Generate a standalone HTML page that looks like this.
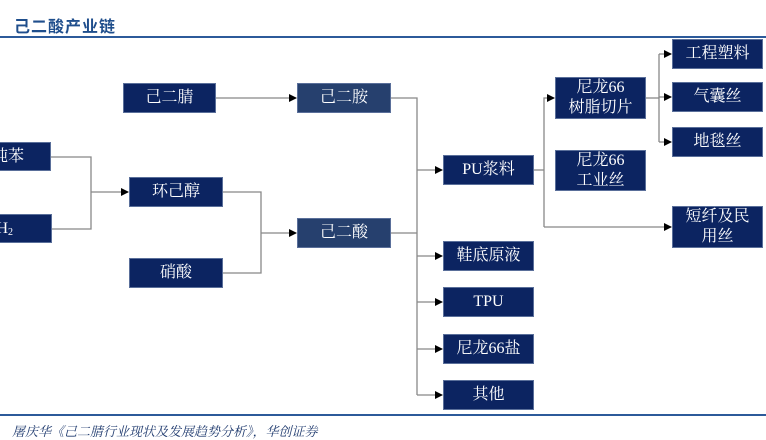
<!DOCTYPE html>
<html><head><meta charset="utf-8"><style>
body{margin:0;width:766px;height:439px;background:#fff;overflow:hidden;position:relative;font-family:"Liberation Serif","Noto Serif CJK SC",serif}
.t{position:absolute;left:14px;top:13px;font:bold 16px "Liberation Sans","Noto Sans CJK SC",sans-serif;color:#1f4e8c;letter-spacing:1px}
.b{position:absolute;background:#0c2461;color:#fff;display:flex;align-items:center;justify-content:center;text-align:center;font-size:16px;line-height:20px;box-sizing:border-box;border:1px solid #5a6f9a}
.l{background:#26406e}
svg{position:absolute;left:0;top:0}
.src{position:absolute;left:12px;top:421px;font:italic 13px "Noto Serif CJK SC",serif;color:#1f3a6e}
</style></head><body>
<div class="t">己二酸产业链</div>
<svg width="766" height="439">
<defs><marker id="a" markerWidth="8" markerHeight="8" refX="7" refY="4" orient="auto" markerUnits="userSpaceOnUse"><path d="M0,0L8,4L0,8z" fill="#000"/></marker></defs>
<line x1="0" y1="37" x2="766" y2="37" stroke="#2c5a9a" stroke-width="2"/>
<line x1="0" y1="415" x2="766" y2="415" stroke="#2c5a9a" stroke-width="2"/>
<g stroke="#888" stroke-width="1.3" fill="none">
<line x1="216" y1="98" x2="296" y2="98" marker-end="url(#a)"/>
<polyline points="51,157 91,157 91,229 52,229"/>
<line x1="91" y1="192" x2="128" y2="192" marker-end="url(#a)"/>
<polyline points="223,192 261,192 261,273 223,273"/>
<line x1="261" y1="233" x2="296" y2="233" marker-end="url(#a)"/>
<polyline points="391,98 417,98 417,395"/>
<line x1="391" y1="233" x2="417" y2="233"/>
<line x1="417" y1="170" x2="442" y2="170" marker-end="url(#a)"/>
<line x1="417" y1="256" x2="442" y2="256" marker-end="url(#a)"/>
<line x1="417" y1="302" x2="442" y2="302" marker-end="url(#a)"/>
<line x1="417" y1="349" x2="442" y2="349" marker-end="url(#a)"/>
<line x1="417" y1="395" x2="442" y2="395" marker-end="url(#a)"/>
<polyline points="534,170 544,170"/>
<polyline points="544,227 544,98 554,98" marker-end="url(#a)"/>
<line x1="544" y1="227" x2="671" y2="227" marker-end="url(#a)"/>
<line x1="646" y1="98" x2="659" y2="98"/>
<polyline points="659,54 659,142"/>
<line x1="659" y1="54" x2="671" y2="54" marker-end="url(#a)"/>
<line x1="659" y1="97" x2="671" y2="97" marker-end="url(#a)"/>
<line x1="659" y1="142" x2="671" y2="142" marker-end="url(#a)"/>
</g>
</svg>
<div class="b" style="left:123px;top:83px;width:93px;height:30px">己二腈</div>
<div class="b l" style="left:297px;top:83px;width:94px;height:30px">己二胺</div>
<div class="b" style="left:-40px;top:142px;width:91px;height:29px;justify-content:flex-end;padding-right:26px">纯苯</div>
<div class="b" style="left:-40px;top:214px;width:92px;height:29px;justify-content:flex-end;padding-right:38px">H<span style="font-size:10px;position:relative;top:4px">2</span></div>
<div class="b" style="left:129px;top:177px;width:94px;height:30px">环己醇</div>
<div class="b" style="left:129px;top:258px;width:94px;height:30px">硝酸</div>
<div class="b l" style="left:297px;top:218px;width:94px;height:30px">己二酸</div>
<div class="b" style="left:443px;top:155px;width:91px;height:30px">PU浆料</div>
<div class="b" style="left:555px;top:77px;width:91px;height:42px">尼龙66<br>树脂切片</div>
<div class="b" style="left:555px;top:150px;width:91px;height:41px">尼龙66<br>工业丝</div>
<div class="b" style="left:672px;top:39px;width:91px;height:30px">工程塑料</div>
<div class="b" style="left:672px;top:82px;width:91px;height:30px">气囊丝</div>
<div class="b" style="left:672px;top:127px;width:91px;height:30px">地毯丝</div>
<div class="b" style="left:672px;top:206px;width:91px;height:42px">短纤及民<br>用丝</div>
<div class="b" style="left:443px;top:241px;width:91px;height:30px">鞋底原液</div>
<div class="b" style="left:443px;top:287px;width:91px;height:30px">TPU</div>
<div class="b" style="left:443px;top:334px;width:91px;height:30px">尼龙66盐</div>
<div class="b" style="left:443px;top:380px;width:91px;height:30px">其他</div>
<div class="src">屠庆华《己二腈行业现状及发展趋势分析》，华创证券</div>
</body></html>
